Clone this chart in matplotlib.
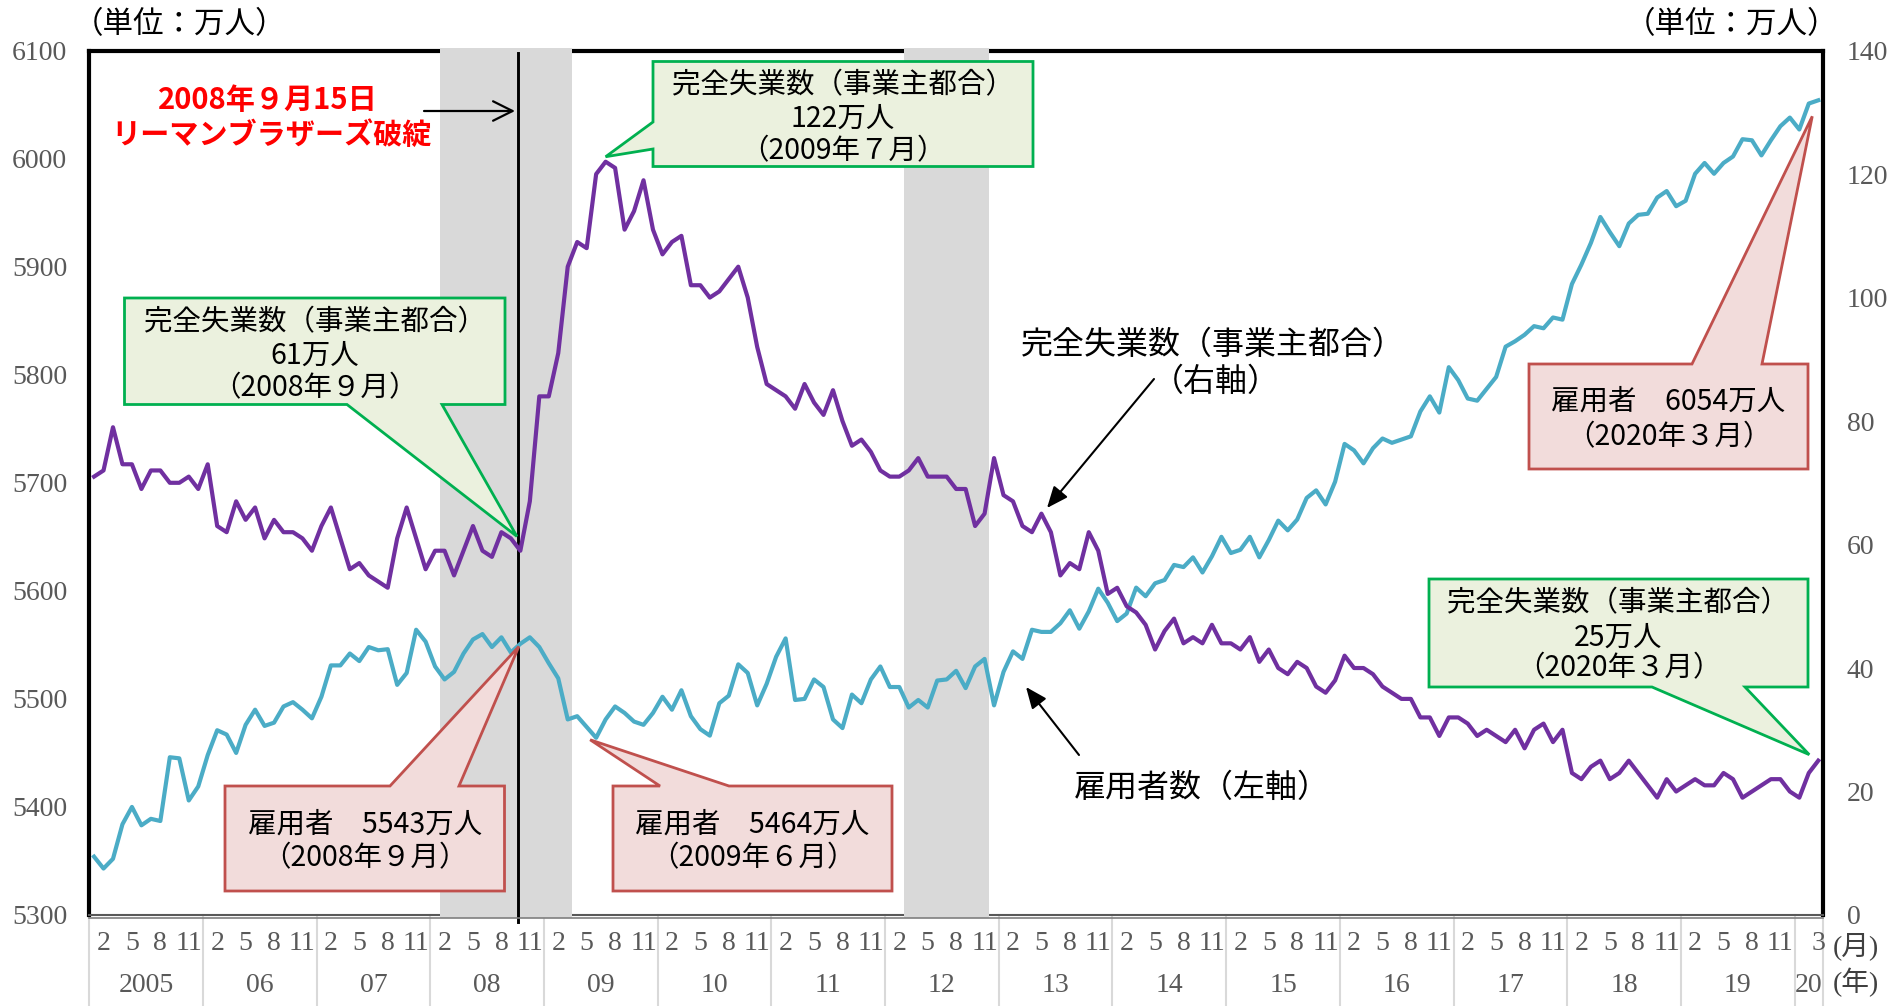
import numpy as np
import pandas as pd
import matplotlib
matplotlib.use("Agg")
import matplotlib.pyplot as plt
import matplotlib.transforms as mtransforms
from matplotlib.patches import Polygon, FancyArrowPatch
from matplotlib.lines import Line2D

# monthly series, Jan 2005 - Mar 2020 (万人)
months = pd.period_range("2005-01", "2020-03", freq="M")

employees = [
    5354, 5343, 5352, 5384, 5400, 5383, 5389, 5387, 5446, 5445, 5406, 5419,
    5448, 5471, 5467, 5450, 5476, 5490, 5475, 5478, 5493, 5497, 5490, 5482,
    5502, 5531, 5531, 5542, 5535, 5548, 5545, 5546, 5513, 5524, 5564, 5553,
    5530, 5518, 5525, 5542, 5555, 5560, 5548, 5557, 5543, 5551, 5557, 5548,
    5533, 5519, 5481, 5484, 5474, 5464, 5481, 5493, 5487, 5479, 5476, 5487,
    5502, 5490, 5508, 5484, 5472, 5466, 5496, 5503, 5532, 5524, 5494, 5514,
    5539, 5556, 5499, 5500, 5518, 5511, 5481, 5473, 5504, 5496, 5518, 5530,
    5511, 5511, 5492, 5499, 5492, 5517, 5518, 5526, 5510, 5530, 5537, 5494,
    5525, 5544, 5537, 5564, 5562, 5562, 5570, 5582, 5565, 5581, 5602, 5589,
    5572, 5579, 5603, 5595, 5607, 5610, 5624, 5622, 5631, 5617, 5632, 5650,
    5635, 5638, 5650, 5631, 5647, 5665, 5656, 5666, 5686, 5693, 5680, 5701,
    5736, 5730, 5718, 5732, 5741, 5737, 5740, 5743, 5766, 5780, 5765, 5807,
    5795, 5778, 5776, 5787, 5798, 5826, 5831, 5837, 5845, 5843, 5853, 5851,
    5884, 5902, 5922, 5946, 5932, 5919, 5940, 5948, 5949, 5964, 5970, 5956,
    5961, 5986, 5996, 5986, 5996, 6002, 6018, 6017, 6003, 6017, 6030, 6038,
    6027, 6051, 6054,
]

# 完全失業者のうち事業主都合 (右軸)
dismissed = [
    71, 72, 79, 73, 73, 69, 72, 72, 70, 70, 71, 69,
    73, 63, 62, 67, 64, 66, 61, 64, 62, 62, 61, 59,
    63, 66, 61, 56, 57, 55, 54, 53, 61, 66, 61, 56,
    59, 59, 55, 59, 63, 59, 58, 62, 61, 59, 67, 84,
    84, 91, 105, 109, 108, 120, 122, 121, 111, 114, 119, 111,
    107, 109, 110, 102, 102, 100, 101, 103, 105, 100, 92, 86,
    85, 84, 82, 86, 83, 81, 85, 80, 76, 77, 75, 72,
    71, 71, 72, 74, 71, 71, 71, 69, 69, 63, 65, 74,
    68, 67, 63, 62, 65, 62, 55, 57, 56, 62, 59, 52,
    53, 50, 49, 47, 43, 46, 48, 44, 45, 44, 47, 44,
    44, 43, 45, 41, 43, 40, 39, 41, 40, 37, 36, 38,
    42, 40, 40, 39, 37, 36, 35, 35, 32, 32, 29, 32,
    32, 31, 29, 30, 29, 28, 30, 27, 30, 31, 28, 30,
    23, 22, 24, 25, 22, 23, 25, 23, 21, 19, 22, 20,
    21, 22, 21, 21, 23, 22, 19, 20, 21, 22, 22, 20,
    19, 23, 25,
]

recessions = [("2008-02", "2009-03"), ("2012-03", "2012-11")]
left_ticks = [5300, 5400, 5500, 5600, 5700, 5800, 5900, 6000, 6100]
right_ticks = [0, 20, 40, 60, 80, 100, 120, 140]
month_ticks = [2, 5, 8, 11]
year_labels = ["2005", "06", "07", "08", "09", "10", "11", "12", "13",
               "14", "15", "16", "17", "18", "19", "20"]

CJK = ["Noto Sans CJK JP", "DejaVu Sans"]
plt.rcParams["font.family"] = ["Liberation Serif", "Noto Sans CJK JP"]

PURPLE = "#7030a0"
CYAN = "#4bacc6"
BAND = "#d9d9d9"
TICK_GRAY = "#595959"

W, H = 1888, 1006
L, R, T, B = 89.3, 1823.0, 50.6, 915.0

fig = plt.figure(figsize=(W / 100, H / 100), dpi=100)
ax = fig.add_axes([L / W, 1 - B / H, (R - L) / W, (B - T) / H])
ax2 = ax.twinx()

x = np.arange(len(months))
ax.set_xlim(-0.5, len(months) - 0.5)
ax.set_ylim(left_ticks[0], left_ticks[-1])
ax2.set_ylim(right_ticks[0], right_ticks[-1])

# recession bands, painted over the frame like in the original sheet
for start, end in recessions:
    a = months.get_loc(pd.Period(start, "M"))
    b = months.get_loc(pd.Period(end, "M"))
    band = ax.axvspan(a - 0.5, b + 0.5, ymin=-0.003, ymax=1.003,
                      color=BAND, lw=0, zorder=2.6)
    band.set_clip_on(False)

# Lehman collapse marker, just right of the Sep-2008 point
lehman_x = 44.8
ax.plot([lehman_x, lehman_x], [6098, 5293.5], color="black", lw=2.1,
        zorder=2.7, clip_on=False)

ax.plot(x, employees, color=CYAN, lw=3.0, zorder=3)
ax2.plot(x, dismissed, color=PURPLE, lw=3.0, zorder=3)

for s in ["left", "right", "top"]:
    ax.spines[s].set_linewidth(3)
    ax.spines[s].set_color("black")
ax.spines["bottom"].set_linewidth(1.5)
ax.spines["bottom"].set_color("#595959")
for s in ax2.spines.values():
    s.set_visible(False)

ax.set_xticks([])
ax.set_yticks(left_ticks)
ax2.set_yticks(right_ticks)
ax.tick_params(axis="y", length=0, pad=16, labelsize=20, labelcolor=TICK_GRAY)
ax2.tick_params(axis="y", length=0, pad=17, labelsize=20, labelcolor=TICK_GRAY)

fig.add_artist(Line2D([L / W, R / W], [1 - 917.5 / H] * 2, color="#7f7f7f",
                      lw=1.2, transform=fig.transFigure, zorder=1))

# category axis: month row, year row and year separators
xt = mtransforms.blended_transform_factory(ax.transData, fig.transFigure)
last = len(months) - 1
for i, p in enumerate(months):
    if (p.month in month_ticks and p.year < months[-1].year) or i == last:
        ax.text(i, 1 - 944 / H, str(p.month), transform=xt, ha="center",
                va="center", fontsize=20, color=TICK_GRAY, clip_on=False)

years = sorted(set(p.year for p in months))
for lab, yr in zip(year_labels, years):
    idx = [i for i, p in enumerate(months) if p.year == yr]
    ax.text((idx[0] + idx[-1]) / 2, 1 - 985 / H, lab, transform=xt,
            ha="center", va="center", fontsize=20, color=TICK_GRAY, clip_on=False)
    ax.plot([idx[0] - 0.5] * 2, [1 - B / H, 0], transform=xt, color=BAND,
            lw=1.5, clip_on=False, zorder=1)
ax.plot([last + 0.5] * 2, [1 - B / H, 0], transform=xt, color=BAND,
        lw=1.5, clip_on=False, zorder=1)

fig.text(1856 / W, 1 - 946 / H, "(月)", ha="center", va="center",
         fontsize=20, color="#404040")
fig.text(1856 / W, 1 - 982 / H, "(年)", ha="center", va="center",
         fontsize=20, color="#404040")

for cx in (180, 1732):
    fig.text(cx / W, 1 - 25 / H, "（単位：万人）", ha="center", va="center",
             fontsize=22, family=CJK)


def fig_xy(px, py):
    return px / W, 1 - py / H


def data_px(axis, xv, yv, dx=0, dy=0):
    qx, qy = axis.transData.transform((xv, yv))
    return qx + dx, H - qy + dy


def fw(n):
    return str(n).translate(str.maketrans("0123456789", "０１２３４５６７８９"))


def callout(box, side, base, tip, lines, face, edge):
    x0, y0, x1, y1 = box
    if side == "bottom":
        verts = [(x0, y0), (x1, y0), (x1, y1), (base[1], y1), tip,
                 (base[0], y1), (x0, y1)]
    elif side == "top":
        verts = [(x0, y0), (base[0], y0), tip, (base[1], y0), (x1, y0),
                 (x1, y1), (x0, y1)]
    else:
        verts = [(x0, y0), (x1, y0), (x1, y1), (x0, y1), (x0, base[1]), tip,
                 (x0, base[0])]
    fig.add_artist(Polygon([fig_xy(*v) for v in verts], closed=True,
                           transform=fig.transFigure, facecolor=face,
                           edgecolor=edge, lw=2, joinstyle="miter", zorder=5))
    cx = (x0 + x1) / 2
    for text, ty in lines:
        fig.text(cx / W, 1 - ty / H, text, ha="center", va="center",
                 fontsize=20.5, family=CJK, zorder=6)


GREEN_FC, GREEN_EC = "#ebf1de", "#00b050"
PINK_FC, PINK_EC = "#f2dcdb", "#c0504d"


def when(i):
    p = months[i]
    return f"（{p.year}年{fw(p.month)}月）"


i_sep08 = months.get_loc(pd.Period("2008-09", "M"))
i_jun09 = months.get_loc(pd.Period("2009-06", "M"))
i_jul09 = months.get_loc(pd.Period("2009-07", "M"))

callout((124.5, 298, 505, 404.5), "bottom", (347, 442),
        data_px(ax2, i_sep08, dismissed[i_sep08], 6, -2),
        [("完全失業数（事業主都合）", 322), (f"{dismissed[i_sep08]}万人", 356),
         (when(i_sep08), 388)], GREEN_FC, GREEN_EC)
callout((653, 61.5, 1033, 166.5), "left", (122, 149),
        data_px(ax2, i_jul09, dismissed[i_jul09], 0, -5),
        [("完全失業数（事業主都合）", 85), (f"{dismissed[i_jul09]}万人", 119),
         (when(i_jul09), 151)], GREEN_FC, GREEN_EC)
callout((1429, 579, 1808, 687), "bottom", (1652, 1745),
        data_px(ax2, last, dismissed[last], -9, -6),
        [("完全失業数（事業主都合）", 603), (f"{dismissed[last]}万人", 638),
         (when(last), 668)], GREEN_FC, GREEN_EC)

callout((225, 786, 504.5, 891), "top", (390, 459),
        data_px(ax, i_sep08, employees[i_sep08], 8, -6),
        [(f"雇用者　{employees[i_sep08]}万人", 825), (when(i_sep08), 858)],
        PINK_FC, PINK_EC)
callout((613, 786, 892, 891), "top", (660, 729),
        data_px(ax, i_jun09, employees[i_jun09], -6, 2),
        [(f"雇用者　{employees[i_jun09]}万人", 825), (when(i_jun09), 858)],
        PINK_FC, PINK_EC)
callout((1529, 364, 1808, 469), "top", (1692, 1762),
        data_px(ax, last, employees[last], -6, 16),
        [(f"雇用者　{employees[last]}万人", 402), (when(last), 437)],
        PINK_FC, PINK_EC)

# series labels with pointers
fig.text(1213 / W, 1 - 345 / H, "完全失業数（事業主都合）", ha="center",
         va="center", fontsize=23, family=CJK, zorder=6)
fig.text(1216 / W, 1 - 382 / H, "（右軸）", ha="center", va="center",
         fontsize=23, family=CJK, zorder=6)
fig.text(1202 / W, 1 - 788 / H, "雇用者数（左軸）", ha="center", va="center",
         fontsize=23, family=CJK, zorder=6)

for (ax0, ay0), (ax1, ay1) in [((1154, 379), (1047, 508)),
                               ((1079, 755), (1026, 687))]:
    fig.add_artist(FancyArrowPatch(fig_xy(ax0, ay0), fig_xy(ax1, ay1),
                                   transform=fig.transFigure,
                                   arrowstyle="-|>,head_length=1.0,head_width=0.42",
                                   mutation_scale=13, lw=1.5, color="black",
                                   shrinkA=0, shrinkB=0, zorder=6))

fig.text(268 / W, 1 - 100 / H, "2008年９月15日", ha="center", va="center",
         fontsize=21, fontweight="bold", color="#ff0000", family=CJK, zorder=6)
fig.text(271.5 / W, 1 - 135 / H, "リーマンブラザーズ破綻", ha="center",
         va="center", fontsize=21, fontweight="bold", color="#ff0000",
         family=CJK, zorder=6)
fig.add_artist(FancyArrowPatch(fig_xy(424, 111), fig_xy(515, 111),
                               transform=fig.transFigure,
                               arrowstyle="->,head_length=1.0,head_width=0.5",
                               mutation_scale=14, lw=1.6, color="black",
                               shrinkA=0, shrinkB=0, zorder=6))

fig.savefig("out.png", dpi=100)
